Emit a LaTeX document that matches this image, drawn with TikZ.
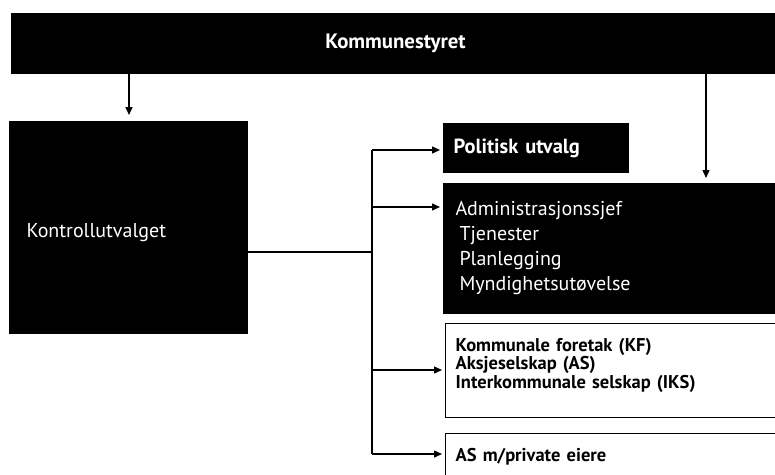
\documentclass[tikz,border=0pt]{standalone}
\usepackage{fontspec}
\setmainfont{PT Sans}
\usetikzlibrary{arrows.meta}
\tikzset{
  blackbox/.style={draw=black, fill=black, text=white, anchor=north west, align=left, inner ysep=0pt, line width=1pt},
  whitebox/.style={draw=black, fill=white, text=black, anchor=north west, align=left, inner ysep=0pt, line width=1.3pt},
  conn/.style={line width=1.4pt, draw=black},
  arr/.style={conn, -{Triangle[length=8pt,width=7pt]}, shorten >=3pt},
}
\begin{document}
\begin{tikzpicture}[x=1pt,y=-1pt]
\useasboundingbox (0,0) rectangle (775,474);
\clip (0,0) rectangle (775,474);
% top bar
\node[blackbox, minimum width=768pt, minimum height=60pt, inner xsep=0pt, text width=768pt, align=center,
      font=\fontsize{20.8}{24}\selectfont\bfseries] (styret) at (11,13) {Kommunestyret};
% Kontrollutvalget
\node[blackbox, minimum width=238pt, minimum height=212pt, inner xsep=17pt, text width=204pt,
      font=\fontsize{20}{24}\selectfont] (kontroll) at (9,121) {\rule{0pt}{25pt}Kontrollutvalget};
% Politisk utvalg
\node[blackbox, minimum width=185pt, minimum height=49pt, inner xsep=10pt, text width=165pt,
      font=\fontsize{20.5}{24}\selectfont\bfseries] (politisk) at (443,123) {Politisk utvalg};
% Administrasjonssjef
\node[blackbox, minimum width=340pt, minimum height=130pt, inner xsep=12pt, text width=316pt,
      font=\fontsize{20}{25}\selectfont] (admin) at (443,183)
  {Administrasjonssjef\\\hspace*{4pt}Tjenester\\\hspace*{4pt}Planlegging\\\hspace*{4pt}Myndighetsutøvelse};
% Selskaper
\node[whitebox, minimum width=340pt, minimum height=94pt, inner xsep=8pt, text width=320pt,
      font=\fontsize{18.5}{18.5}\selectfont\bfseries] (selskap) at (445,323)
  {Kommunale foretak (KF)\\Aksjeselskap (AS)\\Interkommunale selskap (IKS)\\[-4pt]\mbox{}};
% AS m/private eiere
\node[whitebox, minimum width=340pt, minimum height=46pt, inner xsep=8pt, text width=320pt,
      font=\fontsize{18.5}{19}\selectfont\bfseries] (privat) at (445,433) {AS m/private eiere};
% connector points
\coordinate (jtop) at (372,150);
\coordinate (jmid) at (372,252);
\coordinate (jbot) at (372,454);
\coordinate (jadm) at (372,207);
\coordinate (jsel) at (372,370);
% arrows from Kommunestyret
\draw[arr, shorten >=6pt] (styret.south -| 129,0) -- (kontroll.north -| 129,0);
\draw[arr, shorten >=5pt] (styret.south -| 706,0) -- (admin.north -| 706,0);
% branch
\draw[conn] (kontroll.east |- jmid) -- (jmid);
\draw[conn] (jtop) -- (jbot);
\draw[arr] (jtop) -- (politisk.west |- jtop);
\draw[arr] (jadm) -- (admin.west |- jadm);
\draw[arr] (jsel) -- (selskap.west |- jsel);
\draw[arr] (jbot) -- (privat.west |- jbot);
\end{tikzpicture}
\end{document}
